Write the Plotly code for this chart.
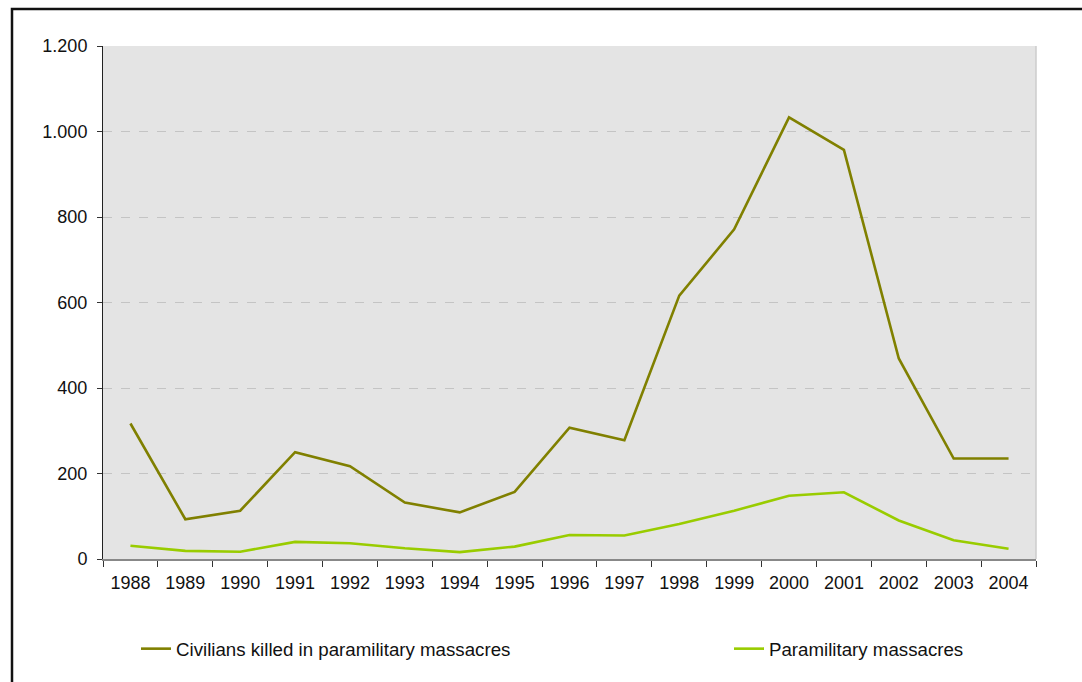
import plotly.graph_objects as go

years = ["1988", "1989", "1990", "1991", "1992", "1993", "1994", "1995", "1996",
         "1997", "1998", "1999", "2000", "2001", "2002", "2003", "2004"]
civilians_killed = [317, 93, 113, 250, 217, 132, 109, 157, 307, 278, 616, 771, 1033, 957, 469, 235, 235]
massacres = [31, 19, 17, 40, 37, 25, 16, 29, 56, 55, 82, 113, 148, 156, 90, 44, 24]
y_ticks = [0, 200, 400, 600, 800, 1000, 1200]

W, H = 1082, 682
L, R, T, B = 103, 1036, 46, 559
PW, PH = R - L, B - T

fig = go.Figure()
fig.add_trace(go.Scatter(x=years, y=civilians_killed, mode="lines",
                         name="Civilians killed in paramilitary massacres",
                         line=dict(color="#808000", width=2.6), legend="legend"))
fig.add_trace(go.Scatter(x=years, y=massacres, mode="lines",
                         name="Paramilitary massacres",
                         line=dict(color="#99cc00", width=2.6), legend="legend2"))

font = dict(family="Liberation Sans, Arial, sans-serif", size=18, color="#111111")
lfont = dict(family="Liberation Sans, Arial, sans-serif", size=18.7, color="#111111")
ly = -(649 - B) / PH

fig.update_layout(
    width=W, height=H,
    margin=dict(l=L, r=W - R, t=T, b=H - B, pad=0),
    paper_bgcolor="white",
    plot_bgcolor="#e4e4e4",
    separators=",.",
    font=font,
    showlegend=True,
    legend=dict(orientation="h", x=(136 - L) / PW, xanchor="left",
                y=ly, yanchor="middle", font=lfont, bgcolor="rgba(0,0,0,0)"),
    legend2=dict(orientation="h", x=(729 - L) / PW, xanchor="left",
                 y=ly, yanchor="middle", font=lfont, bgcolor="rgba(0,0,0,0)"),
    xaxis=dict(type="category", tickson="boundaries", ticks="outside", ticklen=6,
               tickcolor="#333333", showline=True, linecolor="#888888", linewidth=1.5,
               showgrid=False, range=[-0.5, 16.5], tickfont=font, mirror=False,
               zeroline=False, ticklabelstandoff=7),
    yaxis=dict(range=[0, 1200], tickvals=y_ticks, tickformat=",d", ticks="outside",
               ticklen=5, tickcolor="#333333", showline=True, linecolor="#222222",
               linewidth=1, showgrid=True, gridcolor="#c4c4c4", griddash="dash",
               gridwidth=1, zeroline=False, tickfont=font, ticklabelstandoff=6),
)

# right border of plot area
fig.add_shape(type="line", xref="paper", yref="paper", x0=1, x1=1, y0=0, y1=1,
              line=dict(color="#cccccc", width=1.5))
# outer frame (left and top edges visible)
fig.add_shape(type="rect", xref="paper", yref="paper",
              x0=(12 - L) / PW, x1=1.2, y0=-0.5, y1=(B - 9) / PH,
              line=dict(color="#111111", width=2.5), fillcolor="rgba(0,0,0,0)", layer="above")

fig.write_html("out.html", config={"displayModeBar": False},
               post_script="document.body.style.margin='0px';document.body.style.overflow='hidden';")
